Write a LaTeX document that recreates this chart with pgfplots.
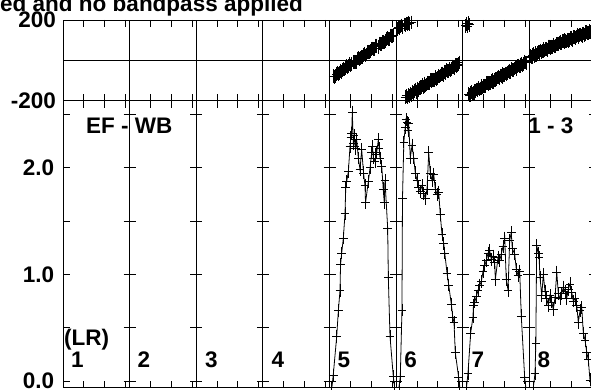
\documentclass[border=0pt]{standalone}
\usepackage{pgfplots}
\pgfplotsset{compat=1.18}
\usepackage{fontspec}
\setmainfont{Liberation Sans}
\newcommand{\bigbf}{\fontsize{22.5}{26}\selectfont\bfseries}
\begin{document}
\begin{tikzpicture}
\pgfplotsset{
 possm/.style={
   scale only axis, width=533pt, xmin=0, xmax=512,
   anchor=south west,
   axis line style={line width=0.8pt, black},
   tick style={line width=0.8pt, black},
   major tick length=7pt,
   tick align=inside,
   xtick={20,40,60,84,104,124,148,168,188,212,232,252,276,296,316,340,360,380,404,424,444,468,488,508},
   xticklabels={},
   extra x ticks={64,128,192,256,320,384,448},
   extra x tick labels={},
   extra x tick style={grid=major, major tick length=0pt},
   grid style={black, line width=0.8pt},
   yticklabel style={font=\bigbf, inner sep=0pt},
 },
 phs/.style={only marks, black, mark=+, mark size=4.3pt, mark options={line width=0.8pt, yscale=1.6}},
 amp/.style={black, line width=0.8pt, mark=+, mark size=4.3pt, mark options={line width=0.8pt, yscale=1.5}},
}
% ---------- phase panel ----------
\begin{axis}[possm, at={(63pt,288.3pt)}, height=80.7pt, ymin=-200, ymax=200,
  ytick={-200,200}, yticklabels={-200,200}, yticklabel style={xshift=-7pt},
  extra y ticks={0}, extra y tick labels={}, extra y tick style={grid=major}]
\addplot[phs] coordinates {
(259.5,-78)(261.5,-79)(263.5,-61)(265.5,-61)(267.5,-59)(269.5,-41)(271.5,-37)(273.5,-35)(275.5,-17)(277.5,-19)
(279.5,-7)(281.5,-8)(283.5,10)(285.5,12)(287.5,17)(289.5,33)(291.5,29)(293.5,43)(295.5,47)(297.5,59)
(299.5,57)(301.5,73)(303.5,84)(305.5,80)(307.5,92)(309.5,97)(311.5,111)(313.5,106)(315.5,122)(317.5,124)
(260.5,-81)(262.5,-68)(264.5,-69)(266.5,-51)(268.5,-48)(270.5,-45)(272.5,-28)(274.5,-28)(276.5,-25)(278.5,-10)
(280.5,-8)(282.5,9)(284.5,5)(286.5,16)(288.5,27)(290.5,24)(292.5,40)(294.5,42)(296.5,57)(298.5,58)
(300.5,72)(302.5,68)(304.5,82)(306.5,91)(308.5,88)(310.5,106)(312.5,107)(314.5,123)(316.5,121)
};
\addplot[phs] coordinates {
(321.5,157)(322.5,165)(323.5,160)(324.5,168)(325.5,173)(326.5,167)(327.5,178)(328.5,175)(329.5,183)(330.5,179)(331.5,186)(333,182)(334.5,188)
(328.5,-182)(329.5,-176)(330.5,-184)(331.5,-172)(332.5,-175)(333.5,-166)(334.5,-170)
(335.5,-158)(337,-161)(338.5,-145)(340,-148)(341.5,-148)(343,-133)(344.5,-131)(346,-131)(347.5,-115)(349,-120)
(350.5,-111)(352,-114)(353.5,-98)(355,-98)(356.5,-96)(358,-83)(359.5,-89)(361,-77)(362.5,-75)(364,-65)
(365.5,-71)(367,-57)(368.5,-48)(370,-54)(371.5,-44)(373,-43)(374.5,-31)(376,-38)(377.5,-24)(379,-24)(380.5,-11)
(336.25,-162)(337.75,-151)(339.25,-155)(340.75,-139)(342.25,-138)(343.75,-137)(345.25,-123)(346.75,-126)(348.25,-125)(349.75,-112)
(351.25,-112)(352.75,-98)(354.25,-105)(355.75,-96)(357.25,-87)(358.75,-92)(360.25,-79)(361.75,-80)(363.25,-67)(364.75,-68)
(366.25,-56)(367.75,-62)(369.25,-52)(370.75,-45)(372.25,-50)(373.75,-34)(375.25,-35)(376.75,-23)(378.25,-27)(379.75,-18)
};
\addplot[phs] coordinates {
(386.5,172)(387.5,181)(388.5,168)(389.5,185)(390.5,176)
(389.5,-168)(391,-172)(392.5,-157)(394,-160)(395.5,-161)(397,-145)(398.5,-144)(400,-145)(401.5,-129)(403,-135)
(404.5,-125)(406,-129)(407.5,-114)(409,-114)(410.5,-113)(412,-99)(413.5,-106)(415,-94)(416.5,-93)(418,-84)
(419.5,-89)(421,-76)(422.5,-67)(424,-74)(425.5,-65)(427,-63)(428.5,-52)(430,-59)(431.5,-46)(433,-47)
(434.5,-33)(436,-36)(437.5,-26)(439,-31)(440.5,-19)(442,-19)(443.5,-7)(445,-12)
(390.25,-173)(391.75,-163)(393.25,-166)(394.75,-151)(396.25,-151)(397.75,-150)(399.25,-137)(400.75,-139)(402.25,-139)(403.75,-127)
(405.25,-127)(406.75,-114)(408.25,-120)(409.75,-112)(411.25,-104)(412.75,-109)(414.25,-97)(415.75,-97)(417.25,-85)(418.75,-86)
(420.25,-75)(421.75,-82)(423.25,-71)(424.75,-65)(426.25,-70)(427.75,-55)(429.25,-57)(430.75,-44)(432.25,-49)(433.75,-40)
(435.25,-42)(436.75,-29)(438.25,-30)(439.75,-21)(441.25,-25)(442.75,-10)(444.25,-11)
};
\addplot[phs] coordinates {
(449,22)(450.5,18)(452,32)(453.5,28)(455,27)(456.5,41)(458,42)(459.5,40)(461,55)(462.5,49)
(464,57)(465.5,53)(467,68)(468.5,66)(470,67)(471.5,79)(473,72)(474.5,82)(476,82)(477.5,90)
(479,83)(480.5,95)(482,101)(483.5,93)(485,101)(486.5,101)(488,111)(489.5,102)(491,114)(492.5,112)
(494,124)(495.5,120)(497,128)(498.5,122)(500,133)(501.5,131)(503,142)(504.5,135)(506,144)(507.5,141)(509,152)(510.5,149)
(449.75,17)(451.25,26)(452.75,22)(454.25,37)(455.75,36)(457.25,36)(458.75,49)(460.25,45)(461.75,45)(463.25,56)
(464.75,55)(466.25,68)(467.75,60)(469.25,68)(470.75,76)(472.25,69)(473.75,80)(475.25,78)(476.75,89)(478.25,86)
(479.75,96)(481.25,88)(482.75,97)(484.25,102)(485.75,95)(487.25,109)(488.75,106)(490.25,117)(491.75,111)(493.25,118)
(494.75,114)(496.25,126)(497.75,123)(499.25,131)(500.75,125)(502.25,139)(503.75,136)(505.25,142)(506.75,139)(508.25,149)(509.75,147)
};
\end{axis}
% ---------- amplitude panel ----------
\begin{axis}[possm, at={(63pt,1.5pt)}, height=286.8pt, ymin=-0.061, ymax=2.627,
  ytick={0,0.5,1,1.5,2,2.5}, yticklabels={0.0,,1.0,,2.0,}, yticklabel style={xshift=-8.7pt}]
\addplot[amp] coordinates {
(258.3,-0.06)(259.6,0.056)(262.9,0.415)(264.5,0.66)(266.1,0.85)(266.6,1.09)(267.7,1.2)(269.3,1.34)(270.9,1.57)(271.6,1.81)
(272.5,1.87)(274.1,1.96)(275.7,2.2)(276.5,2.28)(277.3,2.32)(277.9,2.52)(278.9,2.23)(279.7,2.30)(280.5,2.2)(281.2,2.18)
(282.1,2.26)(283.7,2.09)(285.3,1.98)(286.9,2.17)(288.7,1.95)(290.1,1.83)(290.6,1.67)(293.3,1.87)(295.0,2.00)(296.5,2.14)
(297.3,2.20)(298.1,2.09)(299.7,2.06)(300.5,2.12)(301.3,2.14)(302.9,2.26)(303.7,2.18)(304.5,2.09)(306.2,2.01)(307.6,1.80)
(308.6,1.67)(309.3,1.88)(311.9,1.43)(312.5,0.97)(314.1,0.42)(317.3,0.04)(318.5,-0.06)
};
\addplot[amp] coordinates {
(322.7,-0.06)(324.0,0.04)(325.6,0.665)(326.1,1.71)(327.4,2.24)(328.8,2.38)(329.5,2.45)(330.5,2.42)(331.4,2.35)(332.1,2.41)
(333.6,2.09)(335.3,2.21)(336.9,2.09)(338.4,1.95)(340.1,1.88)(341.7,1.81)(343.2,1.78)(344.9,1.83)(346.5,1.76)(348.0,1.71)
(349.7,1.80)(351.3,2.14)(352.8,1.95)(354.5,1.88)(356.1,1.94)(357.6,1.80)(359.3,1.75)(360.9,1.77)(362.4,1.56)(364.1,1.37)
(365.7,1.29)(366.7,1.20)(368.9,1.01)(370.5,0.90)(373.0,0.72)(374.4,0.60)(375.6,0.55)(376.8,0.27)(380.1,0.03)(381.2,-0.06)
};
\addplot[amp] coordinates {
(387.6,-0.06)(389.0,0.07)(391.6,0.45)(393.8,0.60)(394.3,0.71)(395.5,0.74)(397.0,0.79)(398.7,0.85)(400.3,0.90)(401.8,0.93)
(403.5,1.03)(405.1,1.08)(406.6,1.13)(408.3,1.20)(409.9,1.22)(411.4,1.14)(413.1,1.17)(414.7,1.11)(415.3,0.95)(417.9,1.16)
(419.5,1.13)(421.0,1.19)(422.7,1.26)(424.3,1.34)(425.8,0.95)(427.5,0.85)(429.1,1.32)(430.6,1.39)(431.6,1.24)(433.9,1.19)
(435.4,1.05)(437.1,0.99)(438.7,1.03)(440.2,0.61)(443.5,0.03)(444.6,-0.06)
};
\addplot[amp] coordinates {
(451.8,-0.06)(453.4,0.07)(454.2,0.35)(455.0,1.27)(456.6,1.20)(457.3,1.16)(458.2,0.97)(459.9,0.80)(461.4,1.00)(463.0,0.84)
(464.7,0.77)(466.2,0.71)(467.8,0.80)(469.5,0.74)(471.0,0.67)(472.6,0.78)(474.3,1.02)(475.8,0.82)(477.4,0.77)(479.1,0.82)
(480.6,0.88)(482.2,0.84)(483.8,0.77)(485.4,0.86)(487.0,0.91)(488.7,0.83)(490.2,0.75)(491.8,0.77)(493.5,0.71)(495.0,0.55)
(496.7,0.66)(498.3,0.69)(499.8,0.45)(501.5,0.38)(503.1,0.27)(504.6,0.20)(506.2,0.01)(507.5,-0.06)
};
\end{axis}
% separator tick crosses
\begin{scope}[x=1pt,y=1pt]
\foreach \k in {1,...,7}{
  \foreach \v in {0,0.5,1,1.5,2,2.5}{
    \draw[line width=0.8pt, black] ({63+66.625*\k-6},{1.5+(\v+0.061)*106.7}) -- ++(12,0);
  }}
\end{scope}
% texts
\begin{scope}[every node/.style={font=\bigbf, inner sep=0pt}]
\node[anchor=base east] at (303pt,377pt) {Vector averaged and no bandpass applied};
\node[anchor=base west] at (86pt,256pt) {EF - WB};
\node[anchor=base east] at (573.5pt,256pt) {1 - 3};
\node[anchor=base west] at (64pt,44pt) {(LR)};
\node[anchor=base west] at (70.8pt,22pt) {1};
\node[anchor=base west] at (137.3pt,22pt) {2};
\node[anchor=base west] at (205pt,22pt) {3};
\node[anchor=base west] at (271.5pt,22pt) {4};
\node[anchor=base west] at (337.3pt,22pt) {5};
\node[anchor=base west] at (404.2pt,22pt) {6};
\node[anchor=base west] at (471.3pt,22pt) {7};
\node[anchor=base west] at (537.3pt,22pt) {8};
\end{scope}
\pgfresetboundingbox
\path[use as bounding box] (0pt,0pt) rectangle (591pt,389pt);
\end{tikzpicture}
\end{document}
